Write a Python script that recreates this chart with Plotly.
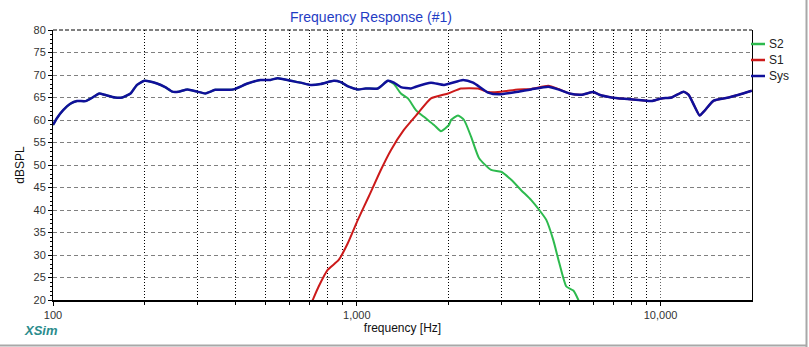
import plotly.graph_objects as go

# ---- data ----
sys_freq = [100, 103, 108, 114, 120, 128, 135, 142, 148, 160, 169, 180, 189, 200, 220, 234, 247, 259, 277, 299,
            317, 342, 375, 393, 437, 482, 520, 549, 606, 654, 705, 761, 840, 886, 941, 1008, 1071, 1173, 1266, 1325,
            1397, 1508, 1565, 1755, 1937, 2238, 2415, 2706, 2942, 3399, 3752, 4270, 4607, 5008, 5488, 6010, 6291,
            6893, 7605, 8655, 9339, 10076, 10872, 11913, 12374, 12950, 13452, 13974, 14960, 16764, 18089, 19971]
sys_db = [58.9, 60.4, 62.2, 63.6, 64.2, 64.2, 65.0, 65.9, 65.6, 65.0, 65.0, 65.9, 67.8, 68.7, 68.1, 67.3, 66.3, 66.3, 66.8, 66.3,
          65.9, 66.7, 66.7, 66.8, 68.1, 68.9, 68.9, 69.3, 68.7, 68.3, 67.8, 68.0, 68.7, 68.4, 67.4, 66.8, 67.0, 67.0, 68.7, 68.3,
          67.3, 67.0, 67.4, 68.3, 67.8, 68.9, 68.3, 66.1, 65.7, 66.3, 66.8, 67.4, 66.8, 65.9, 65.6, 66.2, 65.6,
          65.0, 64.7, 64.4, 64.2, 64.8, 65.0, 66.3, 65.6, 63.0, 61.0, 62.1, 64.3, 65.0, 65.6, 66.5]

s1_freq = [690, 716, 749, 802, 872, 934, 1008, 1095, 1200, 1295, 1429, 1590, 1755, 2000, 2203, 2508, 2706, 2987,
           3399, 3752, 4270, 4607, 5008, 5488, 6010, 6291, 6893, 7605, 8655, 9339, 10076, 10872, 11913, 12374,
           12950, 13452, 13974, 14960, 16764, 18089, 19971]
s1_db = [17.5, 20.0, 23.0, 26.7, 28.9, 32.6, 37.8, 43.0, 48.9, 53.3, 57.8, 61.5, 64.8, 65.9, 67.0, 67.0, 66.2, 66.3,
         66.8, 66.9, 67.6, 66.9, 65.9, 65.6, 66.2, 65.6, 65.0, 64.7, 64.4, 64.2, 64.8, 65.0, 66.3, 65.6,
         63.0, 61.0, 62.1, 64.3, 65.0, 65.6, 66.5]

s2_freq = [100, 103, 108, 114, 120, 128, 135, 142, 148, 160, 169, 180, 189, 200, 220, 234, 247, 259, 277, 299,
           317, 342, 375, 393, 437, 482, 520, 549, 606, 654, 705, 761, 840, 886, 941, 1008, 1071, 1173, 1266, 1325,
           1397, 1474, 1565, 1664, 1796, 1893, 2012, 2043, 2154, 2255, 2378, 2527, 2768, 2987, 3224, 3477, 3752,
           3988, 4206, 4436, 4642, 4895, 5163, 5363, 5500]
s2_db = [58.9, 60.4, 62.2, 63.6, 64.2, 64.2, 65.0, 65.9, 65.6, 65.0, 65.0, 65.9, 67.8, 68.7, 68.1, 67.3, 66.3, 66.3, 66.8, 66.3,
         65.9, 66.7, 66.7, 66.8, 68.1, 68.9, 68.9, 69.3, 68.7, 68.3, 67.8, 68.0, 68.7, 68.4, 67.4, 66.8, 67.0, 67.0, 68.7, 68.0,
         65.9, 64.8, 62.2, 60.7, 58.9, 57.5, 58.9, 60.0, 61.0, 60.0, 56.3, 51.5, 48.9, 48.5, 46.7, 44.4, 42.2,
         40.0, 37.8, 33.3, 28.2, 23.0, 22.1, 20.0, 18.0]

series_names = ["S2", "S1", "Sys"]
series_colors = ["#2DBA4E", "#CC1A1A", "#10109A"]

x_tickvals = [100, 1000, 10000]
x_ticktext = ["100", "1,000", "10,000"]
x_minor = [200, 300, 400, 500, 600, 700, 800, 900, 1000, 2000, 3000, 4000, 5000, 6000, 7000, 8000, 9000, 10000]

fig = go.Figure()
fig.add_trace(go.Scatter(x=s2_freq, y=s2_db, mode="lines", name="S2",
                         line=dict(color=series_colors[0], width=2, shape="spline", smoothing=0.5)))
fig.add_trace(go.Scatter(x=s1_freq, y=s1_db, mode="lines", name="S1",
                         line=dict(color=series_colors[1], width=2, shape="spline", smoothing=0.5)))
fig.add_trace(go.Scatter(x=sys_freq, y=sys_db, mode="lines", name="Sys",
                         line=dict(color=series_colors[2], width=2.5, shape="spline", smoothing=0.5)))

L, R, T, B = 53, 57, 30, 47
W, H = 809, 347
pw, ph = W - L - R, H - T - B

fig.update_layout(
    width=W, height=H,
    margin=dict(l=L, r=R, t=T, b=B),
    paper_bgcolor="white", plot_bgcolor="white",
    showlegend=False,
    font=dict(family="Liberation Sans, Arial, sans-serif", size=11, color="#333333"),
    title=dict(text="Frequency Response (#1)", x=371 / W, xanchor="center", xref="container",
               y=1 - 17 / H, yanchor="middle", yref="container",
               font=dict(size=14, color="#1F3CC4")),
)

fig.update_xaxes(
    type="log", range=[2, 4.30103],
    tickvals=x_tickvals, ticktext=x_ticktext,
    ticks="outside", ticklen=4, tickcolor="black",
    showline=True, linecolor="black", linewidth=2,
    showgrid=True, gridcolor="#666666", griddash="1px,2px", gridwidth=1,
    minor=dict(tickvals=x_minor, showgrid=True, gridcolor="black", griddash="1px,2px",
               gridwidth=1, ticks="outside", ticklen=3, tickcolor="black"),
    title=dict(text="frequency [Hz]", standoff=2, font=dict(size=12, color="#111111")),
    tickfont=dict(size=11, color="#333333"),
    zeroline=False,
)
fig.update_yaxes(
    range=[20, 80], dtick=5,
    ticks="outside", ticklen=4, tickcolor="black",
    showline=True, linecolor="black", linewidth=1, mirror=True,
    showgrid=True, gridcolor="#808080", griddash="4px,3px", gridwidth=1,
    minor=dict(dtick=1, ticks="outside", ticklen=2, tickcolor="black", showgrid=False),
    title=dict(text="dBSPL", standoff=6, font=dict(size=12, color="#111111")),
    tickfont=dict(size=11, color="#333333"),
    zeroline=False,
)

# top border (dashed) of plot area
fig.add_shape(type="line", xref="paper", yref="paper", x0=0, x1=1, y0=1, y1=1,
              line=dict(color="black", width=1, dash="4px,2px"))

# outer frame lines (right and bottom)
fig.add_shape(type="line", xref="paper", yref="paper",
              x0=(W - 2.5 - L) / pw, x1=(W - 2.5 - L) / pw, y0=-B / ph, y1=(H - B) / ph,
              line=dict(color="#A8A8A8", width=2))
fig.add_shape(type="line", xref="paper", yref="paper",
              x0=-L / pw, x1=(W - 2.5 - L) / pw, y0=-(B - 1.5) / ph, y1=-(B - 1.5) / ph,
              line=dict(color="#A8A8A8", width=2))

# custom legend
leg_y = [44, 60, 76]
for name, col, py in zip(series_names, series_colors, leg_y):
    yp = (H - B - py) / ph
    fig.add_shape(type="line", xref="paper", yref="paper",
                  x0=(751 - L) / pw, x1=(765 - L) / pw, y0=yp, y1=yp,
                  line=dict(color=col, width=2.5))
    fig.add_annotation(xref="paper", yref="paper", x=(767 - L) / pw, y=yp,
                       text=name, showarrow=False, xanchor="left", yanchor="middle",
                       font=dict(size=12, color="#222222"))

# XSim logo text
fig.add_annotation(xref="paper", yref="paper", x=(22 - L) / pw, y=-(331 - (H - B)) / ph,
                   text="<b><i>XSim</i></b>", showarrow=False, xanchor="left", yanchor="middle",
                   font=dict(size=13, color="#2A8C8C"))

fig.write_html("out.html")
